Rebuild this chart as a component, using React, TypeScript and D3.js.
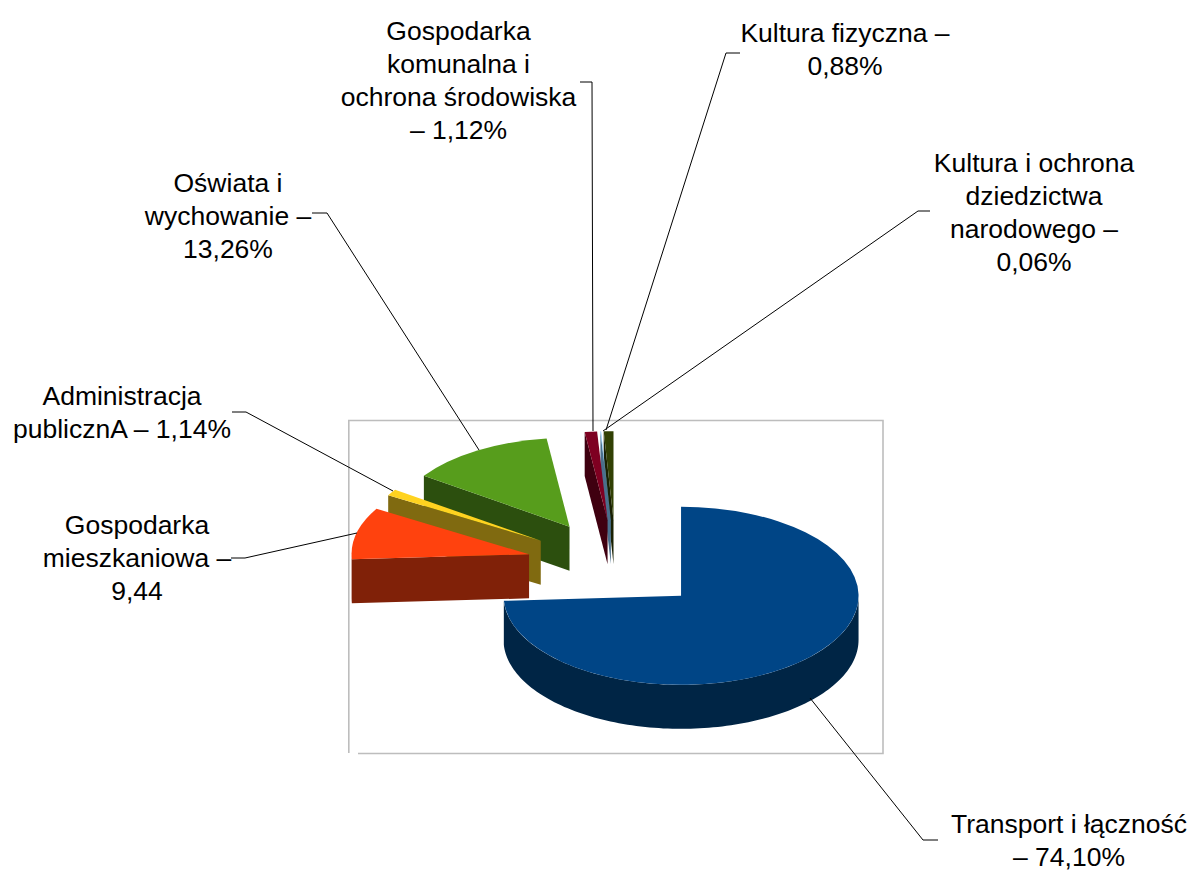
import React from "react";
import * as d3 from "d3";

const categories = [
  "Transport i łączność",
  "Gospodarka mieszkaniowa",
  "Administracja publiczna",
  "Oświata i wychowanie",
  "Gospodarka komunalna i ochrona środowiska",
  "Kultura i ochrona dziedzictwa narodowego",
  "Kultura fizyczna",
];
const shares = [74.1, 9.44, 1.14, 13.26, 1.12, 0.06, 0.88];
const topColors = ["#004586", "#ff420e", "#ffd320", "#579d1c", "#7e0021", "#83caff", "#314004"];
const sideColors = ["#002545", "#802108", "#806a10", "#2c4f0e", "#3f0010", "#4a6f8c", "#192002"];

const width = 1194;
const height = 871;
const cx = 616;
const cy = 565;
const rx = 177.5;
const ratio = 89 / 177.5;
const depth = 44;
const explode = 89.5;

// text lines and leader polylines for each label, same order as categories
const labels = [
  { x: 1069, y: 824, lines: ["Transport i łączność", "– 74,10%"], leader: [[938, 840], [923, 840], [810, 698]] },
  { x: 137, y: 525, lines: ["Gospodarka", "mieszkaniowa –", "9,44"], leader: [[231, 558], [245, 558], [357, 533]] },
  { x: 122, y: 396, lines: ["Administracja", "publicznA – 1,14%"], leader: [[232, 412], [246, 412], [393, 491]] },
  { x: 228, y: 183, lines: ["Oświata i", "wychowanie –", "13,26%"], leader: [[312, 213], [327, 213], [479, 450]] },
  { x: 458.5, y: 31, lines: ["Gospodarka", "komunalna i", "ochrona środowiska", "– 1,12%"], leader: [[580, 82], [592, 82], [593, 431]] },
  { x: 1034, y: 163, lines: ["Kultura i ochrona", "dziedzictwa", "narodowego –", "0,06%"], leader: [[930, 211], [918, 211], [603, 431]] },
  { x: 845, y: 33, lines: ["Kultura fizyczna –", "0,88%"], leader: [[740, 53], [726, 53], [606, 430]] },
];

const pie = d3.pie<number>().sort(null).value((d) => d);
const arcs = pie(shares);
const topArc = d3.arc<d3.PieArcDatum<number>>().innerRadius(0).outerRadius(rx);
const line = d3.line();

function sliceGeometry(a: d3.PieArcDatum<number>) {
  const mid = (a.startAngle + a.endAngle) / 2;
  const ox = cx + explode * Math.sin(mid);
  const oy = cy - explode * ratio * Math.cos(mid);
  const rim = (t: number): [number, number] => [ox + rx * Math.sin(t), oy - rx * ratio * Math.cos(t)];
  const walls: string[] = [];

  // flat side walls that face the viewer
  const wall = (t: number) => {
    const [x, y] = rim(t);
    return line([[ox, oy], [x, y], [x, y + depth], [ox, oy + depth]]) as string;
  };
  if (Math.sin(a.startAngle) < 0) walls.push(wall(a.startAngle));
  if (Math.sin(a.endAngle) > 0) walls.push(wall(a.endAngle));

  // outer curved wall, only the part on the front half
  const from = Math.max(a.startAngle, Math.PI / 2);
  const to = Math.min(a.endAngle, (3 * Math.PI) / 2);
  if (to > from) {
    const steps = d3.range(0, 121).map((i) => from + ((to - from) * i) / 120);
    const upper = steps.map(rim);
    const lower = steps.map(rim).map(([x, y]) => [x, y + depth] as [number, number]).reverse();
    walls.push(line([...upper, ...lower]) as string);
  }
  return { ox, oy, walls };
}

// slices further back are painted first
const paintOrder = d3.range(arcs.length).reverse();

export default function App() {
  return (
    <svg
      width={width}
      height={height}
      style={{ position: "absolute", left: 0, top: 0, background: "#fff" }}
      fontFamily="'Liberation Sans', Arial, sans-serif"
    >
      <g fill="none" stroke="#bdbdbd" strokeWidth={1.6}>
        <path d="M358,753.5 H883 V420.5 H348.8 V753" />
      </g>
      {paintOrder.map((i) => {
        const g = sliceGeometry(arcs[i]);
        return (
          <g key={categories[i]}>
            {g.walls.map((d, j) => (
              <path key={j} d={d} fill={sideColors[i]} />
            ))}
            <path
              d={topArc(arcs[i]) as string}
              transform={`translate(${g.ox},${g.oy}) scale(1,${ratio})`}
              fill={topColors[i]}
            />
          </g>
        );
      })}
      {labels.map((l, i) => (
        <g key={i}>
          <path d={line(l.leader as [number, number][]) as string} fill="none" stroke="#000" strokeWidth={1} />
          <text textAnchor="middle" fontSize={26.5} fill="#000">
            {l.lines.map((t, j) => (
              <tspan key={j} x={l.x} y={l.y + 9 + j * 33}>
                {t}
              </tspan>
            ))}
          </text>
        </g>
      ))}
    </svg>
  );
}
